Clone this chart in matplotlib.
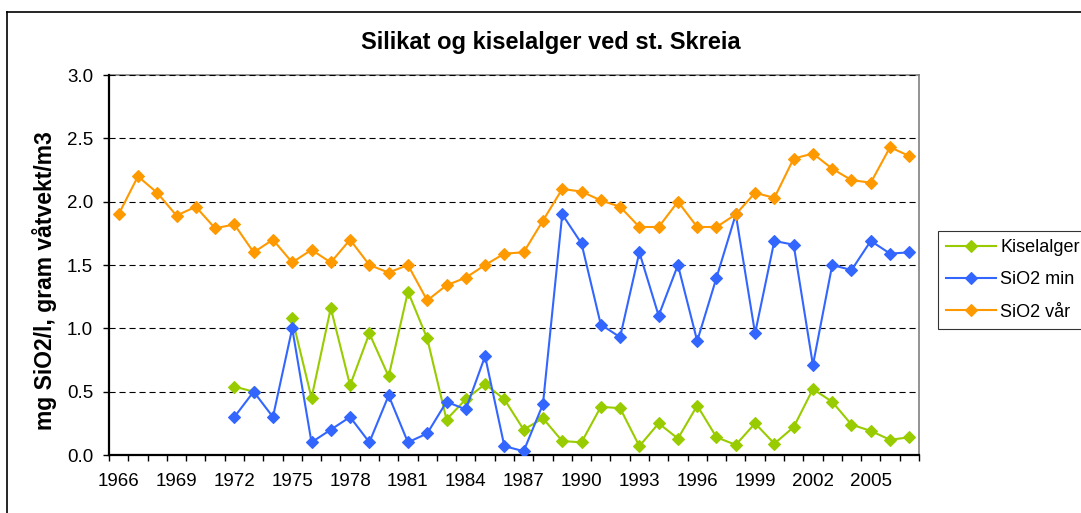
"""Silikat og kiselalger ved st. Skreia - line chart."""

import matplotlib

matplotlib.use("Agg")
import matplotlib.pyplot as plt
import numpy as np
from matplotlib.lines import Line2D

nan = np.nan

years = list(range(1966, 2008))

kiselalger = [nan] * 6 + [
    0.54, 0.50, nan, 1.08, 0.45, 1.16, 0.55, 0.96, 0.62, 1.29,
    0.92, 0.28, 0.44, 0.56, 0.44, 0.20, 0.29, 0.11, 0.10, 0.38,
    0.37, 0.07, 0.25, 0.13, 0.39, 0.14, 0.08, 0.25, 0.09, 0.22,
    0.52, 0.42, 0.24, 0.19, 0.12, 0.14,
]
sio2_min = [nan] * 6 + [
    0.30, 0.50, 0.30, 1.00, 0.10, 0.20, 0.30, 0.10, 0.47, 0.10,
    0.17, 0.42, 0.36, 0.78, 0.07, 0.03, 0.40, 1.90, 1.67, 1.03,
    0.93, 1.60, 1.10, 1.50, 0.90, 1.40, 1.90, 0.96, 1.69, 1.66,
    0.71, 1.50, 1.46, 1.69, 1.59, 1.60,
]
sio2_var = [
    1.90, 2.20, 2.07, 1.89, 1.96, 1.79, 1.82, 1.60, 1.70, 1.52,
    1.62, 1.52, 1.70, 1.50, 1.44, 1.50, 1.22, 1.34, 1.40, 1.50,
    1.59, 1.60, 1.85, 2.10, 2.08, 2.01, 1.96, 1.80, 1.80, 2.00,
    1.80, 1.80, 1.90, 2.07, 2.03, 2.34, 2.38, 2.26, 2.17, 2.15,
    2.43, 2.36,
]

series = [
    ("Kiselalger", kiselalger, "#99CC00"),
    ("SiO2 min", sio2_min, "#3366FF"),
    ("SiO2 vår", sio2_var, "#FF9900"),
]

plt.rcParams["font.family"] = ["Liberation Sans", "DejaVu Sans"]

W, H = 1081, 513
fig = plt.figure(figsize=(W / 100, H / 100), dpi=100)
fig.patch.set_facecolor("white")

# plot area in pixels: x 109..919, y 75..455
ax = fig.add_axes([109 / W, 1 - 455 / H, 810 / W, 380 / H])

x = np.arange(len(years))
for label, values, color in series:
    ax.plot(x, values, color=color, lw=1.5, marker="D", ms=6.4,
            mec=color, mew=0.8, label=label, zorder=3)

ax.set_xlim(-0.5, len(years) - 0.5)
ax.set_ylim(0, 3.0)

ax.set_yticks(np.arange(0, 3.01, 0.5))
ax.set_yticklabels([f"{v:.1f}" for v in np.arange(0, 3.01, 0.5)])
ax.yaxis.grid(True, color="black", lw=0.8, linestyle=(0, (5.5, 3.5)), zorder=1)
ax.set_axisbelow(True)

# category labels every 3rd year, tick marks on category borders
ax.set_xticks(x[::3])
ax.set_xticklabels([str(y) for y in years[::3]])
ax.set_xticks(np.arange(-0.5, len(years), 1.0), minor=True)
ax.tick_params(axis="x", which="major", length=0, pad=13, labelsize=13.5)
ax.tick_params(axis="x", which="minor", length=4.5, width=1, direction="out")
ax.tick_params(axis="y", length=4.5, width=1, direction="out", pad=7, labelsize=13.5)

for side in ("left", "bottom"):
    ax.spines[side].set_color("black")
    ax.spines[side].set_linewidth(1.6)
for side in ("right", "top"):
    ax.spines[side].set_color("#808080")
    ax.spines[side].set_linewidth(1.2)
ax.spines["top"].set_zorder(0)

fig.text(551 / W, 1 - 43 / H, "Silikat og kiselalger ved st. Skreia",
         ha="center", va="center", fontsize=17, fontweight="bold")
fig.text(45 / W, 1 - 281 / H, "mg SiO2/l, gram våtvekt/m3",
         ha="center", va="center", rotation=90, fontsize=16.5, fontweight="bold")

legend_handles = [
    Line2D([0], [0], color=c, lw=1.5, marker="D", ms=6.4, mec=c, mew=0.8)
    for _, _, c in series
]
leg = fig.legend(legend_handles, [s[0] for s in series], loc="upper left",
                 bbox_to_anchor=(938 / W, 1 - 231 / H), borderaxespad=0,
                 fontsize=13, frameon=True, fancybox=False, handlelength=2.75,
                 handletextpad=0.25, labelspacing=0.85, borderpad=0.45)
leg.get_frame().set_edgecolor("black")
leg.get_frame().set_linewidth(0.8)

# outer chart frame (runs off the right and bottom edges)
fig.add_artist(Line2D([7 / W, 1.05], [1 - 12 / H, 1 - 12 / H],
                      transform=fig.transFigure, color="black", lw=1.2))
fig.add_artist(Line2D([7 / W, 7 / W], [1 - 12 / H, -0.05],
                      transform=fig.transFigure, color="black", lw=1.2))

fig.savefig("out.png", dpi=100)
